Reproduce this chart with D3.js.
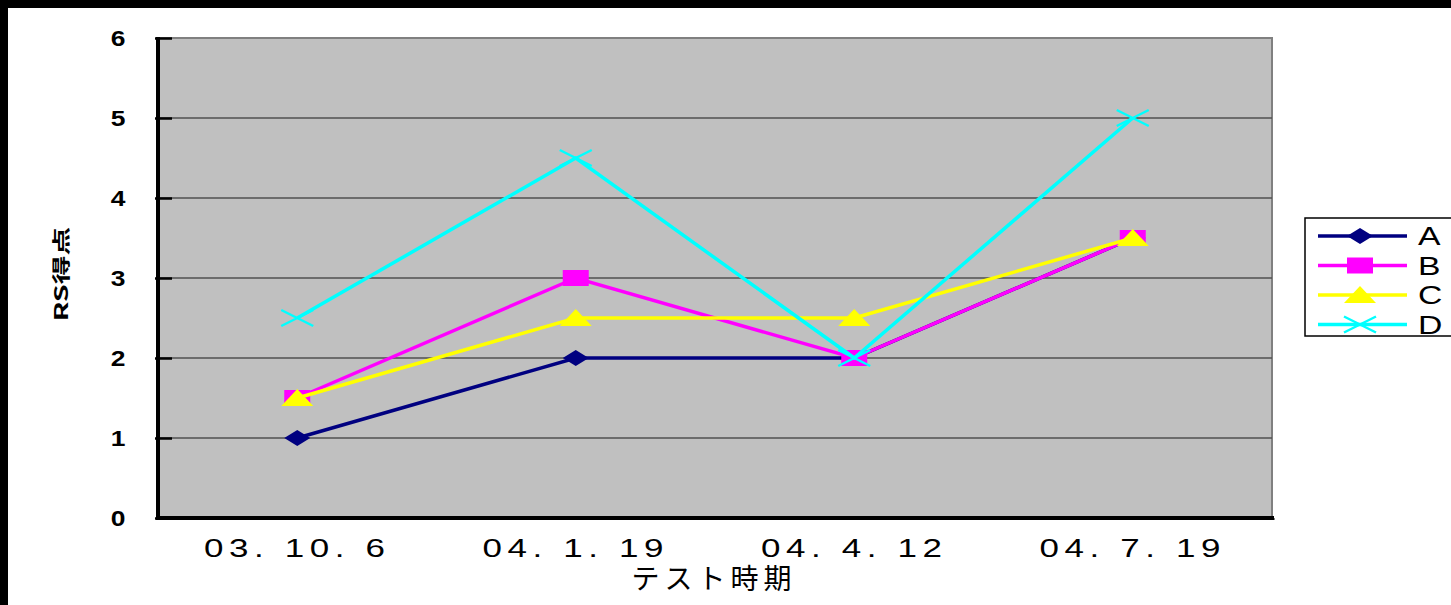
<!DOCTYPE html>
<html>
<head>
<meta charset="utf-8">
<script src="https://cdn.jsdelivr.net/npm/d3@7"></script>
<style>
  body { margin: 0; background: #fff; }
  svg { display: block; }
</style>
</head>
<body>
<script>
// Chart data
const categories = ["03. 10. 6", "04. 1. 19", "04. 4. 12", "04. 7. 19"];
const seriesNames = ["A", "B", "C", "D"];
const valuesA = [1, 2, 2, 3.5];
const valuesB = [1.5, 3, 2, 3.5];
const valuesC = [1.5, 2.5, 2.5, 3.5];
const valuesD = [2.5, 4.5, 2, 5];
const yTicks = [0, 1, 2, 3, 4, 5, 6];

const width = 1451, height = 605;
const plot = { left: 158, top: 38, right: 1272, bottom: 518 };

const series = [
  { name: seriesNames[0], values: valuesA, color: "#000080", marker: "diamond" },
  { name: seriesNames[1], values: valuesB, color: "#FF00FF", marker: "square" },
  { name: seriesNames[2], values: valuesC, color: "#FFFF00", marker: "triangle" },
  { name: seriesNames[3], values: valuesD, color: "#00FFFF", marker: "cross" }
];

const svg = d3.select("body").append("svg")
  .attr("width", width)
  .attr("height", height);

// black frame at top/left
svg.append("rect").attr("x", 0).attr("y", 0).attr("width", width).attr("height", 8).attr("fill", "#000");
svg.append("rect").attr("x", 0).attr("y", 0).attr("width", 8).attr("height", height).attr("fill", "#000");

const x = d3.scaleBand().domain(categories).range([plot.left, plot.right]);
const y = d3.scaleLinear().domain([0, 6]).range([plot.bottom, plot.top]);

// plot background
svg.append("rect")
  .attr("x", plot.left).attr("y", plot.top)
  .attr("width", plot.right - plot.left).attr("height", plot.bottom - plot.top)
  .attr("fill", "#C0C0C0")
  .attr("stroke", "#808080").attr("stroke-width", 2);

// grid lines
svg.append("g")
  .selectAll("line")
  .data(yTicks.filter(d => d > 0 && d < 6))
  .join("line")
  .attr("x1", plot.left).attr("x2", plot.right)
  .attr("y1", d => y(d)).attr("y2", d => y(d))
  .attr("stroke", "#505050").attr("stroke-width", 1.5);

// y axis
const yAxis = svg.append("g")
  .attr("transform", `translate(${plot.left},0)`)
  .call(d3.axisRight(y).tickValues(yTicks).tickSize(14).tickFormat(""));
yAxis.select(".domain").remove();
yAxis.selectAll(".tick line").attr("stroke", "#000").attr("stroke-width", 2.5).attr("x1", -3);
svg.append("line")
  .attr("x1", plot.left).attr("x2", plot.left)
  .attr("y1", plot.top - 1).attr("y2", plot.bottom + 2)
  .attr("stroke", "#000").attr("stroke-width", 4);

svg.append("g")
  .selectAll("text")
  .data(yTicks)
  .join("text")
  .attr("transform", d => `translate(118,${y(d) + 8}) scale(1.2,1)`)
  .attr("text-anchor", "middle")
  .attr("font-family", "Liberation Sans, Arial, sans-serif")
  .attr("font-size", 22)
  .attr("font-weight", "bold")
  .text(d => d);

// x axis
const xAxis = svg.append("g")
  .attr("transform", `translate(0,${plot.bottom})`)
  .call(d3.axisTop(d3.scaleLinear().domain([0, 4]).range([plot.left, plot.right]))
    .tickValues([1, 2, 3, 4]).tickSize(7).tickFormat(""));
xAxis.select(".domain").remove();
xAxis.selectAll(".tick line").attr("stroke", "#000").attr("stroke-width", 4).attr("y2", 2);
svg.append("line")
  .attr("x1", plot.left - 2).attr("x2", plot.right + 2)
  .attr("y1", plot.bottom).attr("y2", plot.bottom)
  .attr("stroke", "#000").attr("stroke-width", 4);

svg.append("g")
  .selectAll("text")
  .data(categories)
  .join("text")
  .attr("transform", d => `translate(${x(d) + x.bandwidth() / 2},557) scale(1.4,1)`)
  .attr("text-anchor", "middle")
  .attr("font-family", "Liberation Sans, Arial, sans-serif")
  .attr("font-size", 25)
  .attr("letter-spacing", 4)
  .text(d => d);

// axis titles
svg.append("text")
  .attr("x", 714).attr("y", 589)
  .attr("text-anchor", "middle")
  .attr("font-family", "Noto Sans CJK JP, sans-serif")
  .attr("font-size", 28)
  .attr("letter-spacing", 5)
  .text("テスト時期");

svg.append("text")
  .attr("transform", "translate(68,274) rotate(-90) scale(1.2,0.75)")
  .attr("text-anchor", "middle")
  .attr("font-family", "Noto Sans CJK JP, sans-serif")
  .attr("font-size", 24)
  .attr("font-weight", "bold")
  .text("RS得点");

// marker shapes
function markerPath(type) {
  if (type === "diamond") return "M-13,0L0,-8L13,0L0,8Z";
  if (type === "square") return "M-13,-8H13V8H-13Z";
  if (type === "triangle") return "M-16,8L0,-9L16,8Z";
  return "M-16,-8L16,8M-16,8L16,-8";
}

function drawMarker(g, s) {
  const p = g.append("path").attr("d", markerPath(s.marker));
  if (s.marker === "cross") p.attr("fill", "none").attr("stroke", s.color).attr("stroke-width", 2.5);
  else p.attr("fill", s.color);
}

const line = d3.line()
  .x((d, i) => x(categories[i]) + x.bandwidth() / 2)
  .y(d => y(d));

const seriesG = svg.append("g")
  .selectAll("g")
  .data(series)
  .join("g");

seriesG.append("path")
  .attr("d", d => line(d.values))
  .attr("fill", "none")
  .attr("stroke", d => d.color)
  .attr("stroke-width", 3.5);

seriesG.each(function (s) {
  d3.select(this).selectAll("g.pt")
    .data(s.values)
    .join("g")
    .attr("class", "pt")
    .attr("transform", (d, i) => `translate(${x(categories[i]) + x.bandwidth() / 2},${y(d)})`)
    .each(function () { drawMarker(d3.select(this), s); });
});

// legend
const legend = svg.append("g").attr("transform", "translate(1305,218)");
legend.append("rect")
  .attr("x", 0).attr("y", 0).attr("width", 160).attr("height", 118)
  .attr("fill", "#fff").attr("stroke", "#000").attr("stroke-width", 1.5);

series.forEach((s, i) => {
  const entry = legend.append("g").attr("transform", `translate(0,${18 + i * 29.5})`);
  entry.append("line")
    .attr("x1", 13).attr("x2", 102)
    .attr("stroke", s.color).attr("stroke-width", 3.5);
  const m = entry.append("g").attr("transform", "translate(55,0)");
  drawMarker(m, s);
  entry.append("text")
    .attr("transform", "translate(113,9) scale(1.35,1)")
    .attr("font-family", "Liberation Sans, Arial, sans-serif")
    .attr("font-size", 25)
    .text(s.name);
});
</script>
</body>
</html>
